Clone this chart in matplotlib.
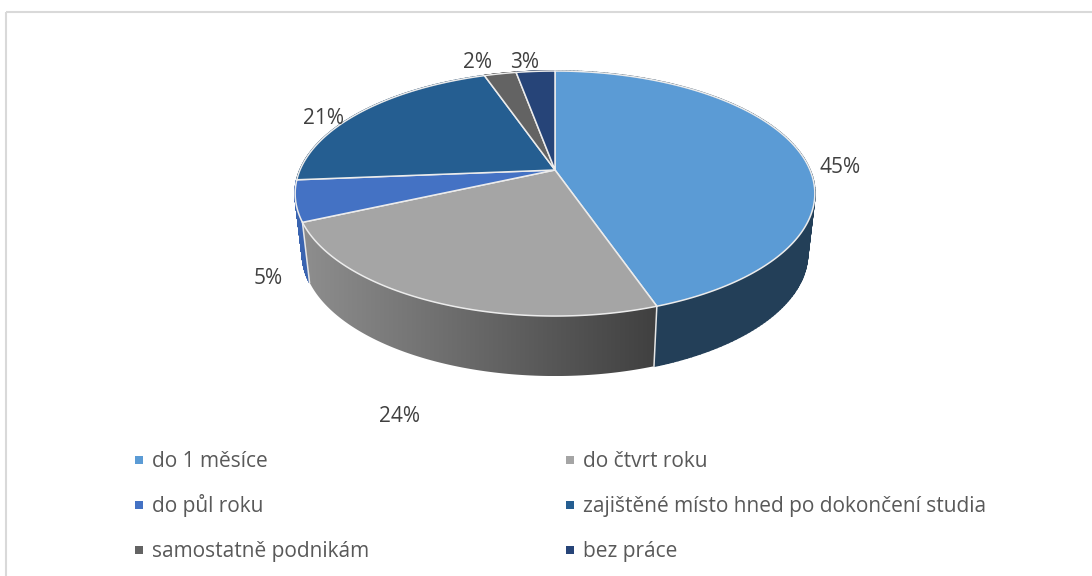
import numpy as np
import matplotlib
matplotlib.use("Agg")
import matplotlib.pyplot as plt
from matplotlib.collections import PolyCollection
from matplotlib.colors import LinearSegmentedColormap
from matplotlib.patches import Polygon, Rectangle

categories = ["do 1 měsíce", "do čtvrt roku", "do půl roku",
              "zajištěné místo hned po dokončení studia",
              "samostatně podnikám", "bez práce"]
values = [44.7, 23.6, 5.4, 21.0, 2.4, 2.9]
colors = ["#5b9bd5", "#a5a5a5", "#4472c4", "#255e91", "#636363", "#264478"]
wall_colors = ["#233f58", None, "#3a64b0", "#1a4266", "#404040", "#182c50"]
label_xy = [(840, 173), (399, 422), (268, 284), (323, 124), (477, 68), (525, 68)]
legend_xy = [(139, 460), (570, 460), (139, 505), (570, 505), (139, 550), (570, 550)]

CX, CY, A, B, P = 555, 170, 255, 118, 0.192
DEPTH, BOTTOM_SCALE = 60, 0.972


def project(theta, bottom=False):
    """theta: clockwise from top, radians; perspective view of the disc."""
    X, Y = np.sin(theta), -np.cos(theta)
    d = 1 - P * Y
    x, y = A * X / d, B * Y / d
    if bottom:
        return CX + BOTTOM_SCALE * x, CY + y + DEPTH
    return CX + x, CY + y


fig = plt.figure(figsize=(10.92, 5.76), dpi=100)
ax = fig.add_axes([0, 0, 1, 1])
ax.axis("off")

edges = np.deg2rad(np.concatenate([[0], np.cumsum(values)]) * 3.6)

# frame
ax.plot([6, 6], [576, 12], color="#d9d9d9", lw=1.5, solid_capstyle="butt")
ax.plot([6, 1092], [12, 12], color="#d9d9d9", lw=1.5, solid_capstyle="butt")

gray_cmap = LinearSegmentedColormap.from_list("wall", ["#8e8e8e", "#404040"])

# walls, back slices first
for i in [3, 4, 5, 2, 0, 1]:
    t = np.linspace(edges[i], edges[i + 1], 160)
    xt, yt = project(t)
    xb, yb = project(t, bottom=True)
    if wall_colors[i] is None:
        pts = np.column_stack([np.r_[xt, xb[::-1]], np.r_[yt, yb[::-1]]])
        poly = Polygon(pts, closed=True, fc="none", ec="none")
        ax.add_patch(poly)
        im = ax.imshow(np.linspace(0, 1, 256)[None, :], cmap=gray_cmap, aspect="auto",
                       extent=(pts[:, 0].min(), pts[:, 0].max(), pts[:, 1].max(), pts[:, 1].min()),
                       zorder=2)
        im.set_clip_path(poly)
    else:
        quads = [[(xt[k], yt[k]), (xt[k + 1], yt[k + 1]), (xb[k + 1], yb[k + 1]), (xb[k], yb[k])]
                 for k in range(len(t) - 1)]
        ax.add_collection(PolyCollection(quads, facecolors=wall_colors[i],
                                         edgecolors=wall_colors[i], linewidths=1.2, zorder=2))

# white separators on the visible wall joints
for e in edges[[1, 2]]:
    x0, y0 = project(e)
    x1, y1 = project(e, bottom=True)
    ax.plot([x0, x1], [y0, y1], color="#e6e6e6", lw=1.1, zorder=3)

# top face
for i in range(len(values)):
    t = np.linspace(edges[i], edges[i + 1], 200)
    x, y = project(t)
    pts = np.column_stack([np.r_[CX, x], np.r_[CY, y]])
    ax.add_patch(Polygon(pts, closed=True, fc=colors[i], ec="#ececec", lw=1.1,
                         joinstyle="round", zorder=4))

# percent labels
for v, (x, y) in zip(values, label_xy):
    ax.text(x, y, f"{v:.0f}%", ha="center", va="baseline", fontsize=15,
            family="Open Sans", color="#404040", zorder=5)

# legend
for name, col, (x, y) in zip(categories, colors, legend_xy):
    ax.add_patch(Rectangle((x - 4, y - 4), 8, 8, fc=col, ec="none", zorder=5))
    ax.text(x + 13, y + 7, name, ha="left", va="baseline", fontsize=15.05,
            family="Open Sans", color="#595959", zorder=5)

ax.set_xlim(0, 1092)
ax.set_ylim(576, 0)
fig.savefig("out.png", dpi=100, facecolor="white")
